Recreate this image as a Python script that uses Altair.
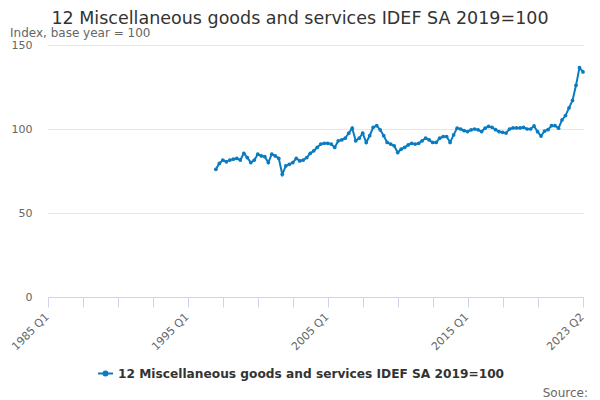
import altair as alt
import pandas as pd

SERIES = "12 Miscellaneous goods and services IDEF SA 2019=100"
TITLE = "12 Miscellaneous goods and services IDEF SA 2019=100"
SUBTITLE = "Index, base year = 100"
SOURCE = "Source:"

AXIS_START = "1985 Q1"
AXIS_END = "2023 Q2"
DATA_START = "1997 Q1"

# quarterly index values, 1997 Q1 .. 2023 Q2
VALUES = [
    76, 79.5, 81.5, 80.5, 81.5, 82, 82.5, 81.5, 85.5, 83,
    80, 81.5, 85, 84, 83.5, 80, 85, 84, 82.5, 73,
    78, 79, 80, 82.5, 81, 81.5, 83, 85.5, 87, 89,
    91, 91.5, 91.5, 91, 89, 93, 93.5, 94.5, 97.5, 100.5,
    93, 94.5, 97.5, 92, 96, 101, 102, 99.5, 96, 92,
    91, 90, 86, 88, 89, 90.5, 91.5, 91, 91.5, 93,
    94.5, 93.5, 92, 92, 94.5, 95.5, 95.5, 92, 96.5, 100.5,
    100, 99, 98.5, 99.5, 100, 99.5, 98.5, 100.5, 101.5, 101,
    99.6, 98.4, 98, 97.6, 100, 100.6, 100.6, 100.6, 101, 100,
    100, 101.8, 98.4, 95.8, 98.8, 99.6, 102, 102, 100.5, 105.4,
    108, 112.6, 117, 126, 136.5, 134,
]

TICK_LABELS = ["1985 Q1", "1995 Q1", "2005 Q1", "2015 Q1", "2023 Q2"]
Y_TICKS = [0, 50, 100, 150]

COLOR = "#0b7bc1"
FONT = "DejaVu Sans"


def qindex(label):
    year, q = label.split(" Q")
    return (int(year) - int(AXIS_START[:4])) * 4 + int(q) - 1


def qlabel(k):
    base = int(AXIS_START[:4])
    return f"{base + k // 4} Q{k % 4 + 1}"


offset = qindex(DATA_START)
df = pd.DataFrame({
    "idx": [offset + i for i in range(len(VALUES))],
    "quarter": [qlabel(offset + i) for i in range(len(VALUES))],
    "value": VALUES,
    "series": SERIES,
})

end_idx = qindex(AXIS_END)
tick_values = list(range(0, end_idx - 10, 10)) + [end_idx]

expr = "''"
for lab in reversed(TICK_LABELS):
    expr = f"datum.value == {qindex(lab)} ? '{lab}' : ({expr})"

legend_symbol = "M-1,0L1,0M0.27,0A0.27,0.27,0,1,1,-0.27,0A0.27,0.27,0,1,1,0.27,0Z"

line = alt.Chart(df).mark_line(
    strokeWidth=2,
    point=alt.OverlayMarkDef(filled=True, size=14, color=COLOR),
).encode(
    x=alt.X("idx:Q",
            scale=alt.Scale(domain=[0, end_idx], nice=False, zero=False),
            axis=alt.Axis(values=tick_values, labelExpr=expr, title=None,
                          grid=False, labelAngle=-45, labelAlign="right",
                          labelBaseline="middle", labelPadding=8, labelOffset=-1,
                          tickSize=10, domainColor="#ccd6eb", tickColor="#ccd6eb",
                          labelColor="#666666", labelFontSize=11, labelFont=FONT,
                          labelOverlap=False, labelFlush=False)),
    y=alt.Y("value:Q",
            scale=alt.Scale(domain=[0, 150], nice=False),
            axis=alt.Axis(values=Y_TICKS, title=None, domain=False, ticks=False,
                          gridColor="#e6e6e6", labelPadding=16,
                          labelColor="#666666", labelFontSize=11, labelFont=FONT)),
    color=alt.Color("series:N", scale=alt.Scale(range=[COLOR]),
                    legend=alt.Legend(orient="none", legendX=49, legendY=320,
                                      title=None, symbolType=legend_symbol,
                                      symbolSize=225, symbolStrokeWidth=2,
                                      symbolStrokeColor=COLOR, symbolFillColor=COLOR,
                                      labelFont=FONT, labelFontSize=12.2,
                                      labelFontWeight="bold", labelColor="#333333",
                                      labelOffset=4, padding=0, labelLimit=600)),
    tooltip=["quarter:N", "value:Q"],
)

title = alt.Chart(pd.DataFrame({"t": [TITLE]})).mark_text(
    font=FONT, fontSize=17.5, color="#333333", align="center", baseline="alphabetic"
).encode(text="t:N", x=alt.value(252), y=alt.value(-21))

subtitle = alt.Chart(pd.DataFrame({"t": [SUBTITLE]})).mark_text(
    font=FONT, fontSize=12, color="#666666", align="left", baseline="alphabetic"
).encode(text="t:N", x=alt.value(-38), y=alt.value(-8))

source = alt.Chart(pd.DataFrame({"t": [SOURCE]})).mark_text(
    font=FONT, fontSize=12, color="#666666", align="right", baseline="alphabetic"
).encode(text="t:N", x=alt.value(540), y=alt.value(352))

chart = alt.layer(line, title, subtitle, source).properties(
    width=535, height=252,
    autosize=alt.AutoSizeParams(type="none"),
    padding={"left": 40, "top": 37, "right": 9, "bottom": 110},
).configure_view(stroke=None)

chart.save("out.html", embed_options={"renderer": "svg", "actions": False})
